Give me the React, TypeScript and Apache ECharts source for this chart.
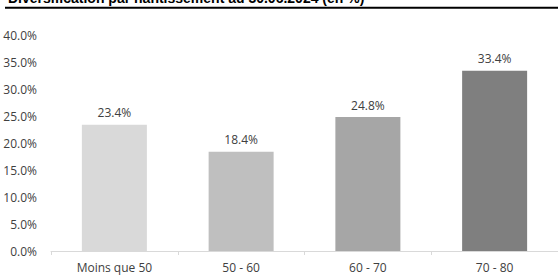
import React, { useEffect, useRef } from "react";
import * as echarts from "echarts";

const TITLE = "Diversification par nantissement au 30.06.2024 (en %)";
const categories = ["Moins que 50", "50 - 60", "60 - 70", "70 - 80"];
const values = [23.4, 18.4, 24.8, 33.4];
const barColors = ["#D9D9D9", "#BFBFBF", "#A6A6A6", "#7F7F7F"];

export default function App() {
  const ref = useRef<HTMLDivElement>(null);
  useEffect(() => {
    if (!ref.current) return;
    const chart = echarts.init(ref.current, null, { renderer: "svg" });
    const font = "'Open Sans', sans-serif";
    chart.setOption({
      animation: false,
      backgroundColor: "#ffffff",
      graphic: [
        {
          type: "text",
          x: 8,
          y: -2,
          style: {
            text: TITLE,
            fontFamily: "'Liberation Sans', Arial, sans-serif",
            fontWeight: "bold",
            fontSize: 14,
            fill: "#000000",
            verticalAlign: "middle",
            align: "left",
          },
        },
        {
          type: "line",
          shape: { x1: 5, y1: 7.7, x2: 558, y2: 7.7 },
          style: { stroke: "#000000", lineWidth: 2 },
        },
      ],
      grid: { left: 51, top: 35, bottom: 24, width: 512 },
      xAxis: {
        type: "category",
        data: categories,
        axisLine: { show: true, lineStyle: { color: "#D9D9D9", width: 1 } },
        axisTick: { show: true, length: 4, alignWithLabel: false, lineStyle: { color: "#D9D9D9" } },
        axisLabel: { color: "#404040", fontSize: 12, fontFamily: font, margin: 10 },
      },
      yAxis: {
        type: "value",
        min: 0,
        max: 40,
        interval: 5,
        axisLine: { show: false },
        axisTick: { show: false },
        splitLine: { show: false },
        axisLabel: {
          color: "#404040",
          fontSize: 12,
          fontFamily: font,
          margin: 14,
          formatter: (v: number) => v.toFixed(1) + "%",
        },
      },
      series: [
        {
          type: "bar",
          barWidth: 65,
          data: values.map((v, i) => ({ value: v, itemStyle: { color: barColors[i] } })),
          label: {
            show: true,
            position: "top",
            distance: 6,
            color: "#404040",
            fontSize: 12,
            fontFamily: font,
            formatter: (p: any) => Number(p.value).toFixed(1) + "%",
          },
        },
      ],
    });
    return () => chart.dispose();
  }, []);
  return <div ref={ref} style={{ width: 558, height: 275, position: "absolute", left: 0, top: 0 }} />;
}
